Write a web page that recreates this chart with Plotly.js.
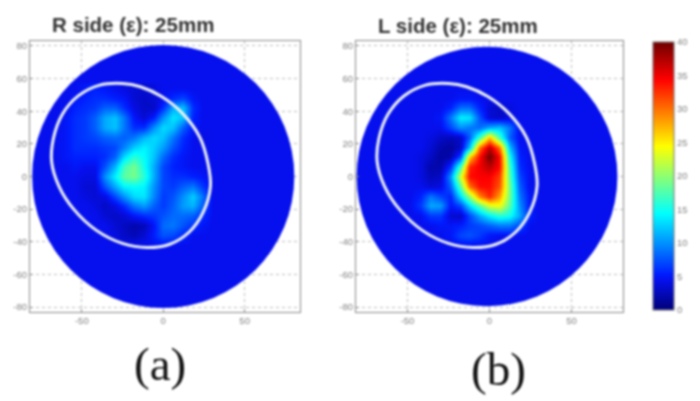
<!DOCTYPE html>
<html><head><meta charset="utf-8">
<script src="https://cdn.plot.ly/plotly-3.0.1.min.js"></script>
<style>
html,body{margin:0;padding:0;background:#fff;overflow:hidden}
#c{width:700px;height:401px}
</style></head><body><div id="c"></div>
<script>
const n = null;
const gridX = [-66,-60,-54,-48,-42,-36,-30,-24,-18,-12,-6,0,6,12,18,24,30];
const gridY = [54,48,42,36,30,24,18,12,6,0,-6,-12,-18,-24,-30,-36,-42];
const rightSide = [
[n,n,4.5,5,5.5,5,4.5,4,3.5,3.5,4,4.5,4.5,4.5,4.5,4.5,4.5],
[n,n,5,5.5,6,6,5.5,5,3.5,3,3.5,4.5,6,7,5,4.5,4.5],
[n,4.5,5.5,6,6.5,8,8,6,4,3,3,6,11,12,6,4.5,4.5],
[4.5,5,6,6.5,8,11,12,9,5,3.5,5.5,10,13.5,12,5.5,4.5,4.5],
[4.5,5,6,6.5,8,11,12,9,6,6,10,13,12,8,5,4.5,4.5],
[4.5,5,6,6.5,7,8,8.5,8,9,11.5,13,12,9,6,4.5,4,4.5],
[4.5,5,6,6,6,6.5,7,9.5,12.5,14,12.5,10.5,7.5,5.5,4.5,4.5,4.5],
[4.5,5,5.5,5.5,5.5,6,8,13,16,14.5,12,8.5,6,5,4.5,4.5,4.5],
[4.5,4.5,5,4.5,4.5,7.5,11.5,17,19,15,11,7,5.5,5,4.5,4.5,4.5],
[4.5,4.5,4.5,4,4,10,14,18,19,16,11,7,6,6,5.5,5,4.5],
[4.5,4.5,4.5,3.5,3.5,7.5,11,14,14.5,14,10,7,6.5,8,9,6.5,4.5],
[4.5,4.5,4.5,4,3.5,4,7,10,13,13.5,9.5,6.5,7.5,10,12.5,9,4.5],
[4.5,4.5,4.5,4.5,4,3,4,6,9,10.5,8,6.5,8,10.5,11.5,8,4.5],
[4.5,4.5,4.5,4.5,4.5,3.5,3,3.5,5,6,6.5,7.5,8.5,8.5,8,6,4.5],
[4.5,4.5,4.5,4.5,4.5,4.5,3.5,2.8,2,2.5,5,8.5,9,7.5,6,5,4.5],
[4.5,4.5,4.5,4.5,4.5,4.5,4,3,2.5,3.5,5.5,7.5,7,5.5,4.5,4.5,4.5],
[n,4.5,4.5,4.5,4.5,4.5,4.5,4.5,4.5,4.5,4.5,4.5,4.5,4.5,4.5,4.5,4.5]];
const leftSide = [
[n,n,4.5,4.5,4.5,4.5,4.5,4.5,4.5,4.5,4.5,4.5,4.5,4.5,4.5,4.5,4.5],
[n,n,4.5,4.5,4.5,4.5,4.5,4.5,5,5,4.5,4.5,4.5,4.5,4.5,4.5,4.5],
[n,4.5,4.5,4.5,4.5,4.5,4.5,5.5,8.5,8.5,5.5,3.5,3,4,4.5,4.5,4.5],
[4.5,4.5,4.5,4.5,4.5,4.5,5,9,14,13.5,7.5,3.5,3,4,4.5,4.5,4.5],
[4.5,4.5,4.5,4.5,4.5,4.5,4.5,7,10,9,8.5,11,12,9,4.5,4.5,4.5],
[4.5,4.5,4.5,4.5,4.5,4,3,2.5,3,8,17,27,17,8,4.5,4.5,4.5],
[4.5,4.5,4.5,4.5,4.5,3.5,2,1.5,3,12,30,37,30,12,5,4.5,4.5],
[4.5,4.5,4.5,4.5,4,3,1.5,2,7,26,34,40,34,15,5.5,4.5,4.5],
[4.5,4.5,4.5,4.5,4,2,2,6,17,33,35,37,34,17,6,4.5,4.5],
[4.5,4.5,4.5,4.5,4,2.5,3,10,23,34,34.5,34.5,32,18,7,4.5,4.5],
[4.5,4.5,4.5,4.5,4.5,3.5,4,8,18,30,34,34,31,19,8,4.5,4.5],
[4.5,4.5,4.5,4.5,5.5,9,7,5.5,13,20,29,33,28,19,9,5,4.5],
[4.5,4.5,4.5,4.5,6.5,11,10.5,5,7,13,18,23,24,18,10,5,4.5],
[4.5,4.5,4.5,4.5,4.5,6.5,6.5,3.5,3,7,11,14,16,15,11,5.5,4.5],
[4.5,4.5,4.5,4.5,4.5,4.5,5,5,5.5,6.5,7,8,9,9,7,4.5,4.5],
[4.5,4.5,4.5,4.5,4.5,4.5,4.5,5,7,7.5,6.5,5,4.5,4.5,4.5,4.5,4.5],
[n,4.5,4.5,4.5,4.5,4.5,4.5,4.5,4.5,4.5,4.5,4.5,4.5,4.5,4.5,4.5,4.5]];
const outlineX = [29,27.5,22.5,12,-1,-14,-25,-39,-52,-62,-67.5,-68.5,-64,-55,-41,-25,-10,4,16,24.5,29];
const outlineY = [-6,8,24,38.5,49,55,57,56,49.5,38,23,9,-6,-20,-33,-41,-43.5,-41.5,-34,-22,-6];
const axisTicks = [-80,-60,-40,-20,0,20,40,60,80];
const xTicks = [-50,0,50];
const barTicks = [0,5,10,15,20,25,30,35,40];
const titles = ["R side (ε): 25mm","L side (ε): 25mm"];
const captions = ["(a)","(b)"];
const diskColor = 'rgb(6,16,238)';
const jet = [[0,'rgb(0,0,120)'],[0.1125,diskColor],[0.135,'rgb(0,30,255)'],[0.36,'rgb(0,255,255)'],[0.61,'rgb(255,255,0)'],[0.86,'rgb(255,0,0)'],[1,'rgb(110,0,0)']];
const W=700,H=401;
const tf={family:'Liberation Sans, Arial, sans-serif',size:9.5,color:'#808080'};
function ax(dom,range,ticks,anchor){return {domain:dom,range:range,tickvals:ticks,ticktext:ticks.map(String),anchor:anchor,
 showgrid:true,gridcolor:'#bbb',griddash:'dot',gridwidth:1,zeroline:false,showline:true,linecolor:'#888',linewidth:1,mirror:true,
 ticks:'inside',ticklen:3,tickcolor:'#888',tickfont:tf,fixedrange:true};}
const yDom=[1-312/H,1-41/H];
const layout={width:W,height:H,margin:{l:0,r:0,t:0,b:0,autoexpand:false},paper_bgcolor:'#fff',plot_bgcolor:'#fff',showlegend:false,
 xaxis:ax([30/W,300/W],[-81.8,84],xTicks,'y'),
 yaxis:ax(yDom,[-83,83],axisTicks,'x'),
 xaxis2:ax([356/W,623/W],[-81.4,81.4],xTicks,'y2'),
 yaxis2:ax(yDom,[-83,83],axisTicks,'x2'),
 coloraxis:{cmin:0,cmax:40,colorscale:jet,colorbar:{thickness:21,thicknessmode:'pixels',len:268/H,lenmode:'fraction',xpad:0,ypad:0,
   x:653/W,xanchor:'left',y:1-310/H,yanchor:'bottom',outlinecolor:'#777',outlinewidth:1,ticks:'',tickvals:barTicks,ticktext:barTicks.map(String),tickfont:tf}},
 shapes:[
  {type:'circle',layer:'between',xref:'x',yref:'y',x0:-80.5,x1:80.5,y0:-80.5,y1:80.5,fillcolor:diskColor,line:{width:0}},
  {type:'circle',layer:'between',xref:'x2',yref:'y2',x0:-81,x1:78,y0:-79.5,y1:79.5,fillcolor:diskColor,line:{width:0}}],
 annotations:[
  {text:'<b>'+titles[0]+'</b>',xref:'paper',yref:'paper',x:133/W,y:1-24/H,showarrow:false,font:{family:'Liberation Sans, Arial',size:20.5,color:'#333'},xanchor:'center',yanchor:'middle'},
  {text:'<b>'+titles[1]+'</b>',xref:'paper',yref:'paper',x:458/W,y:1-26/H,showarrow:false,font:{family:'Liberation Sans, Arial',size:20.5,color:'#333'},xanchor:'center',yanchor:'middle'},
  {text:captions[0],xref:'paper',yref:'paper',x:160/W,y:1-364/H,showarrow:false,font:{family:'Liberation Serif, Times New Roman',size:47,color:'#111'},xanchor:'center',yanchor:'middle'},
  {text:captions[1],xref:'paper',yref:'paper',x:498/W,y:1-369/H,showarrow:false,font:{family:'Liberation Serif, Times New Roman',size:47,color:'#111'},xanchor:'center',yanchor:'middle'}]
};
const hm=(z,xa,ya)=>({type:'heatmap',x:gridX,y:gridY,z:z,xaxis:xa,yaxis:ya,coloraxis:'coloraxis',zsmooth:'best',hoverinfo:'skip'});
const rim=(xa,ya)=>({type:'scatter',mode:'lines',x:outlineX,y:outlineY,xaxis:xa,yaxis:ya,line:{color:'#eef2f0',width:3,shape:'spline',smoothing:1},hoverinfo:'skip'});
Plotly.newPlot('c',[hm(rightSide,'x','y'),hm(leftSide,'x2','y2'),rim('x','y'),rim('x2','y2')],layout,{staticPlot:true,displayModeBar:false}).then(()=>{
 document.querySelectorAll('#c svg.main-svg').forEach(s=>{s.style.filter='blur(0.8px)';});
});
</script></body></html>
